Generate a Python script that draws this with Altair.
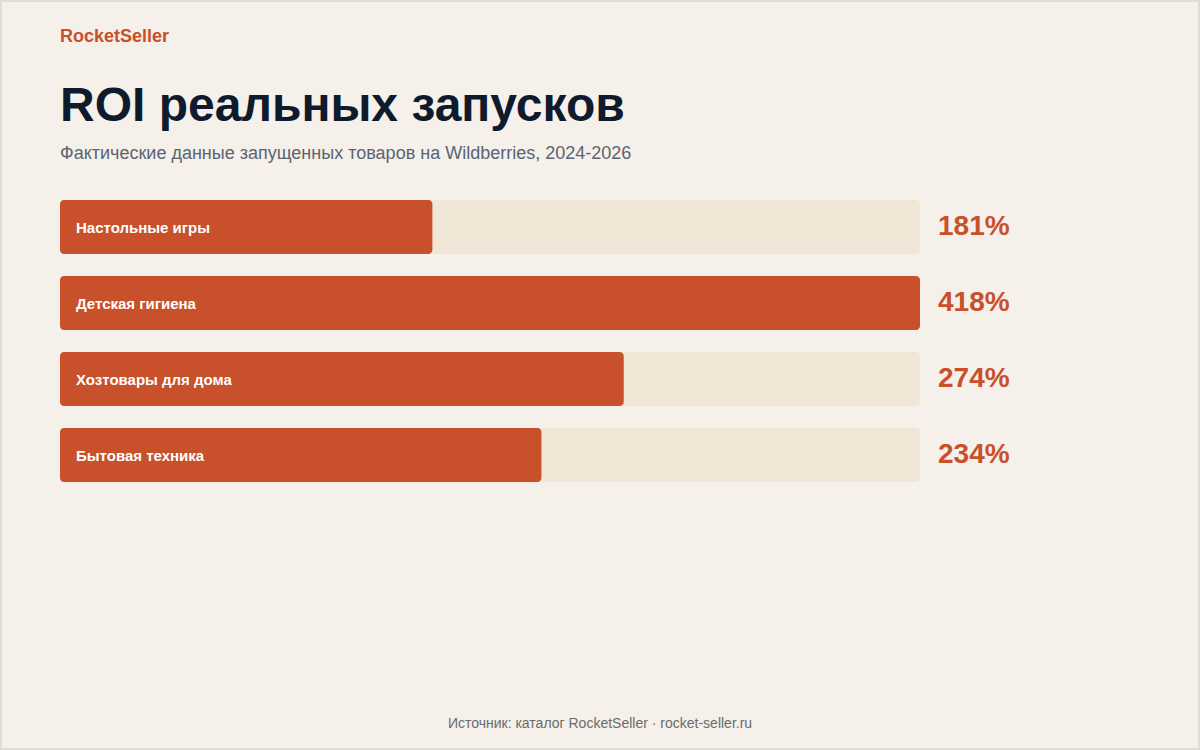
import altair as alt
import pandas as pd

# ROI by product category
categories = ["Настольные игры", "Детская гигиена", "Хозтовары для дома", "Бытовая техника"]
roi = [181, 418, 274, 234]

brand = "RocketSeller"
title = "ROI реальных запусков"
subtitle = "Фактические данные запущенных товаров на Wildberries, 2024-2026"
footer = "Источник: каталог RocketSeller · rocket-seller.ru"

ACCENT = "#c8502a"
TRACK = "#efe6d6"
BG = "#f5f0e9"
FONT = "Liberation Sans"

df = pd.DataFrame({
    "category": categories,
    "roi": roi,
    "track": [max(roi)] * len(roi),
    "label": [f"{v}%" for v in roi],
})

x_scale = alt.Scale(domain=[0, max(roi)], range=[60, 920], nice=False, zero=True)
y_scale = alt.Scale(domain=categories, range=[200, 482], paddingInner=22 / 76, paddingOuter=0)

base = alt.Chart(df)

track = base.mark_bar(color=TRACK, cornerRadius=4).encode(
    x=alt.X("zero:Q", scale=x_scale, axis=None),
    x2=alt.X2("track:Q"),
    y=alt.Y("category:N", scale=y_scale, axis=None, sort=categories),
).transform_calculate(zero="0")

bars = base.mark_bar(color=ACCENT, cornerRadius=4).encode(
    x=alt.X("zero:Q", scale=x_scale, axis=None),
    x2=alt.X2("roi:Q"),
    y=alt.Y("category:N", scale=y_scale, axis=None, sort=categories),
).transform_calculate(zero="0")

names = base.mark_text(
    align="left", baseline="middle", font=FONT, fontSize=15, fontWeight="bold",
    color="#ffffff", dy=1
).encode(
    x=alt.value(76),
    y=alt.Y("category:N", scale=y_scale, axis=None, sort=categories, bandPosition=0.5),
    text="category:N",
)

values = base.mark_text(
    align="left", baseline="middle", font=FONT, fontSize=28, fontWeight="bold", color=ACCENT, dy=0
).encode(
    x=alt.value(938),
    y=alt.Y("category:N", scale=y_scale, axis=None, sort=categories, bandPosition=0.5),
    text="label:N",
)

def text_layer(txt, x, y, size, color, weight="normal", align="left"):
    return alt.Chart(pd.DataFrame({"t": [txt]})).mark_text(
        align=align, baseline="alphabetic", font=FONT, fontSize=size,
        fontWeight=weight, color=color,
    ).encode(x=alt.value(x), y=alt.value(y), text="t:N")

border = alt.Chart(pd.DataFrame({"a": [0]})).mark_rect(
    fill=None, stroke="#e1dcd4", strokeWidth=2
).encode(x=alt.value(1), x2=alt.value(1199), y=alt.value(1), y2=alt.value(749))

chart = alt.layer(
    border,
    text_layer(brand, 60, 42, 18, ACCENT, "bold"),
    text_layer(title, 60, 121, 48, "#0f1b2d", "bold"),
    text_layer(subtitle, 60, 159, 18, "#5b6472"),
    track,
    bars,
    names,
    values,
    text_layer(footer, 600, 728, 14, "#6b6b6b", align="center"),
).properties(
    width=1200,
    height=750,
    background=BG,
    padding=0,
    autosize=alt.AutoSizeParams(type="none"),
).configure_view(stroke=None)

chart.save("out.html", embed_options={"renderer": "svg", "actions": False})
